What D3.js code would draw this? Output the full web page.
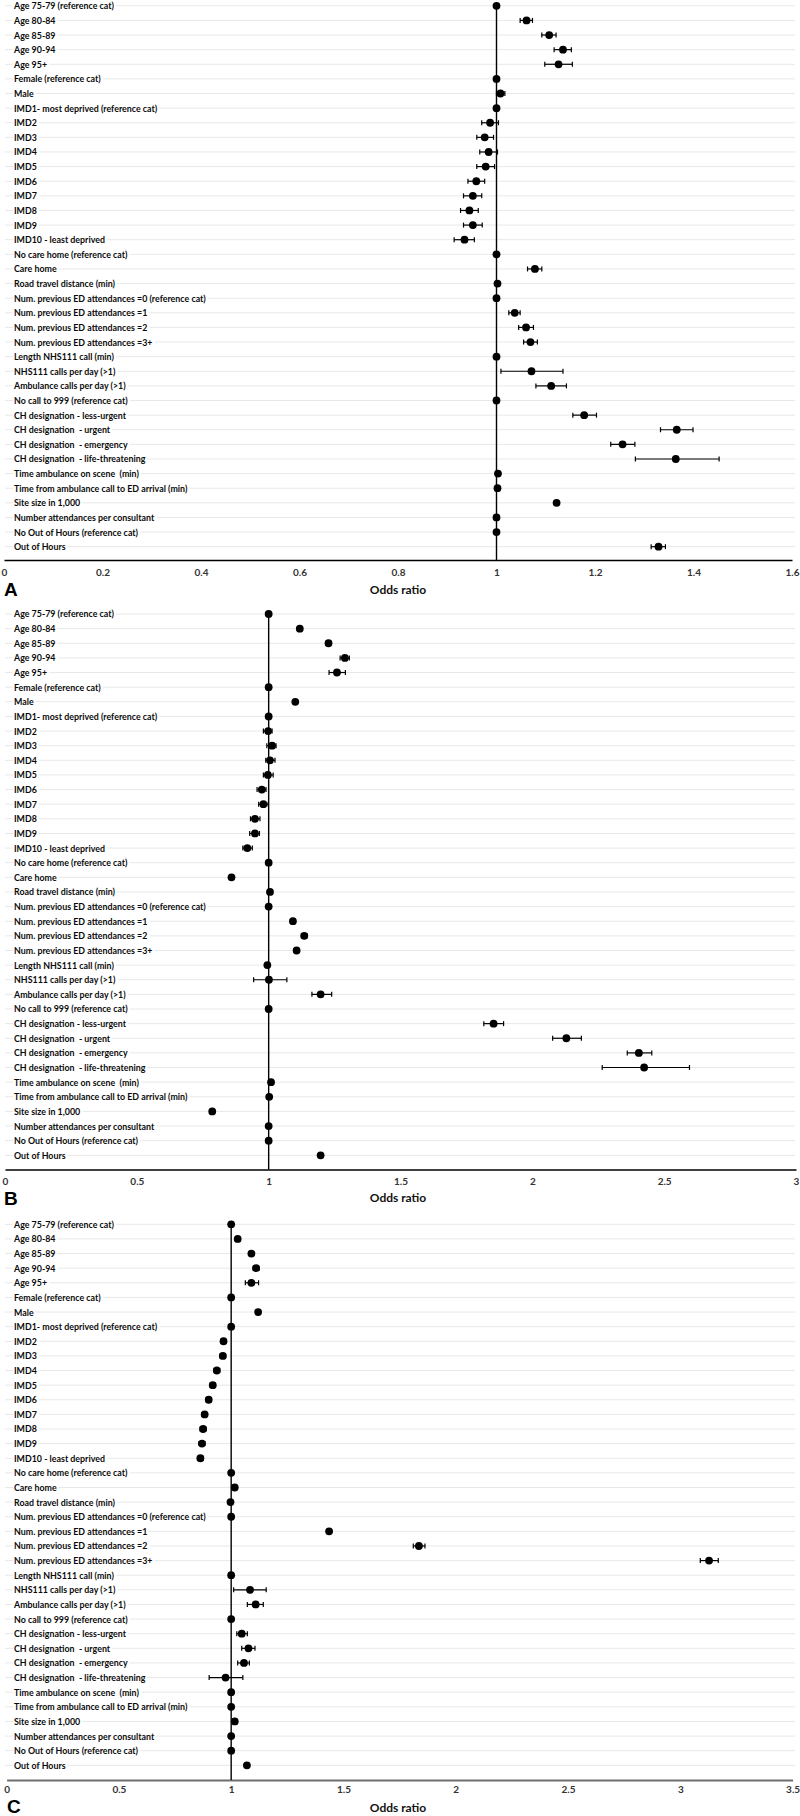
<!DOCTYPE html>
<html>
<head>
<meta charset="utf-8">
<script src="https://cdn.jsdelivr.net/npm/d3@7"></script>
<style>
  html, body { margin: 0; padding: 0; background: #fff; }
  svg { display: block; }
  text { white-space: pre; }
</style>
</head>
<body>
<svg id="chart" width="800" height="1816"></svg>
<script>
const categories = [
  "Age 75-79 (reference cat)", "Age 80-84", "Age 85-89", "Age 90-94", "Age 95+",
  "Female (reference cat)", "Male",
  "IMD1- most deprived (reference cat)", "IMD2", "IMD3", "IMD4", "IMD5", "IMD6", "IMD7", "IMD8", "IMD9",
  "IMD10 - least deprived",
  "No care home (reference cat)", "Care home",
  "Road travel distance (min)",
  "Num. previous ED attendances =0 (reference cat)", "Num. previous ED attendances =1",
  "Num. previous ED attendances =2", "Num. previous ED attendances =3+",
  "Length NHS111 call (min)", "NHS111 calls per day (>1)", "Ambulance calls per day (>1)",
  "No call to 999 (reference cat)",
  "CH designation - less-urgent", "CH designation  - urgent", "CH designation  - emergency",
  "CH designation  - life-threatening",
  "Time ambulance on scene  (min)", "Time from ambulance call to ED arrival (min)",
  "Site size in 1,000", "Number attendances per consultant",
  "No Out of Hours (reference cat)", "Out of Hours"
];

// Panel A: odds ratios and 95% CI
const orA = [1.000,1.061,1.107,1.135,1.126, 1.000,1.008, 1.000,0.987,0.976,0.984,0.978,0.959,0.952,0.945,0.952,0.935,
  1.000,1.078, 1.002, 1.000,1.037,1.060,1.069, 1.000,1.071,1.111, 1.000,1.178,1.366,1.256,1.364,
  1.003,1.002,1.122,1.000,1.000,1.329];
const loA = [1.000,1.048,1.092,1.117,1.098, 1.000,1.000, 1.000,0.970,0.960,0.966,0.960,0.942,0.933,0.927,0.933,0.914,
  1.000,1.063, 1.002, 1.000,1.025,1.045,1.055, 1.000,1.009,1.080, 1.000,1.155,1.333,1.232,1.282,
  1.003,1.002,1.118,1.000,1.000,1.314];
const hiA = [1.000,1.073,1.121,1.152,1.154, 1.000,1.017, 1.000,1.004,0.994,1.002,0.996,0.976,0.970,0.963,0.971,0.955,
  1.000,1.092, 1.002, 1.000,1.048,1.075,1.083, 1.000,1.135,1.142, 1.000,1.203,1.399,1.281,1.452,
  1.003,1.002,1.126,1.000,1.000,1.343];

// Panel B
const orB = [1.000,1.118,1.227,1.289,1.259, 1.000,1.101, 1.000,0.998,1.013,1.005,0.997,0.974,0.980,0.948,0.948,0.919,
  1.000,0.859, 1.005, 1.000,1.092,1.135,1.106, 0.995,1.001,1.197, 1.000,1.853,2.129,2.404,2.424,
  1.009,1.002,0.786,1.000,1.000,1.197];
const loB = [1.000,1.110,1.217,1.271,1.229, 1.000,1.097, 1.000,0.980,0.993,0.989,0.980,0.956,0.962,0.931,0.928,0.902,
  1.000,0.855, 1.005, 1.000,1.085,1.124,1.097, 0.995,0.943,1.164, 1.000,1.816,2.077,2.360,2.265,
  1.009,1.002,0.786,1.000,1.000,1.190];
const hiB = [1.000,1.126,1.237,1.306,1.291, 1.000,1.105, 1.000,1.013,1.028,1.024,1.017,0.990,0.998,0.967,0.965,0.938,
  1.000,0.863, 1.005, 1.000,1.099,1.146,1.115, 0.995,1.069,1.239, 1.000,1.891,2.186,2.453,2.596,
  1.009,1.002,0.786,1.000,1.000,1.204];

// Panel C
const orC = [1.000,1.029,1.090,1.111,1.090, 1.000,1.120, 1.000,0.966,0.963,0.936,0.918,0.900,0.882,0.875,0.870,0.863,
  1.000,1.016, 0.997, 1.000,1.436,1.836,3.128, 1.000,1.084,1.109, 1.000,1.047,1.077,1.057,0.975,
  1.000,1.000,1.016,1.000,1.000,1.070];
const loC = [1.000,1.020,1.080,1.098,1.063, 1.000,1.120, 1.000,0.955,0.950,0.924,0.906,0.888,0.870,0.862,0.857,0.850,
  1.000,1.016, 0.997, 1.000,1.425,1.811,3.089, 1.000,1.011,1.072, 1.000,1.025,1.047,1.029,0.902,
  1.000,1.000,1.016,1.000,1.000,1.070];
const hiC = [1.000,1.038,1.100,1.124,1.122, 1.000,1.120, 1.000,0.977,0.975,0.949,0.930,0.912,0.894,0.888,0.883,0.876,
  1.000,1.016, 0.997, 1.000,1.447,1.863,3.169, 1.000,1.156,1.143, 1.000,1.072,1.106,1.081,1.052,
  1.000,1.000,1.016,1.000,1.000,1.070];

const ticksA = [0, 0.2, 0.4, 0.6, 0.8, 1, 1.2, 1.4, 1.6];
const ticksB = [0, 0.5, 1, 1.5, 2, 2.5, 3];
const ticksC = [0, 0.5, 1, 1.5, 2, 2.5, 3, 3.5];
const panelLetters = ["A", "B", "C"];
const axisTitle = "Odds ratio";

const svg = d3.select("#chart");
const labelFont = "Lato, 'Open Sans', sans-serif";
const labelSize = 10;

// measure label condensing so that labels match the original narrow font
const probe = svg.append("text").attr("font-family", labelFont).attr("font-weight", 700)
  .attr("font-size", labelSize).text(categories[20]);
const probeW = probe.node().getComputedTextLength();
probe.remove();
const labelScale = 192 / probeW;

const panels = [
  { or: orA, lo: loA, hi: hiA, ticks: ticksA, letter: panelLetters[0],
    rowTop: 5.8, rowBottom: 546.7, axisY: 560, x0: 4, x1: 792, axisColor: "#000", pad: 8.5, letterY: 596, titleY: 594 },
  { or: orB, lo: loB, hi: hiB, ticks: ticksB, letter: panelLetters[1],
    rowTop: 614, rowBottom: 1155.3, axisY: 1169.5, x0: 5, x1: 796, axisColor: "#000", pad: 8.5, letterY: 1205, titleY: 1202 },
  { or: orC, lo: loC, hi: hiC, ticks: ticksC, letter: panelLetters[2],
    rowTop: 1224.3, rowBottom: 1765.3, axisY: 1780, x0: 6.6, x1: 792.6, axisColor: "#6e6e6e", pad: 6, letterY: 1813, titleY: 1812 }
];

panels.forEach(p => {
  const g = svg.append("g");
  const x = d3.scaleLinear()
    .domain([0, p.ticks[p.ticks.length - 1]])
    .range([p.x0, p.x1]);
  const y = d3.scalePoint().domain(categories).range([p.rowTop, p.rowBottom]);

  // gridlines
  g.append("g").selectAll("line").data(categories).join("line")
    .attr("x1", 5).attr("x2", 795)
    .attr("y1", d => y(d)).attr("y2", d => y(d))
    .attr("stroke", "#e8e8e8").attr("stroke-width", 1);

  // labels with white background
  const lg = g.append("g").attr("transform", `translate(14,0) scale(${labelScale},1)`);
  const items = lg.selectAll("g").data(categories).join("g");
  items.append("rect").attr("class", "bg");
  items.append("text")
    .attr("x", 0).attr("y", d => y(d)).attr("dy", "0.35em")
    .attr("font-family", labelFont).attr("font-weight", 700).attr("font-size", labelSize)
    .attr("fill", "#0a0a0a").text(d => d);
  items.each(function () {
    const t = d3.select(this).select("text").node();
    const bb = t.getBBox();
    d3.select(this).select("rect")
      .attr("x", bb.x - 1).attr("y", bb.y + 1).attr("width", bb.width + 3).attr("height", bb.height - 2)
      .attr("fill", "#fff");
  });

  // axis
  const axis = d3.axisBottom(x).tickValues(p.ticks).tickSize(0).tickPadding(p.pad)
    .tickFormat(d => String(d));
  const ag = g.append("g").attr("transform", `translate(0,${p.axisY})`).call(axis);
  ag.select(".domain").attr("stroke", p.axisColor).attr("stroke-width", p.axisColor === "#000" ? 1.6 : 2.2);
  ag.selectAll("text").attr("font-family", labelFont).attr("font-weight", 700)
    .attr("font-size", 10).attr("fill", "#333");

  // reference line at OR = 1
  g.append("line")
    .attr("x1", x(1)).attr("x2", x(1))
    .attr("y1", y(categories[0])).attr("y2", p.axisY)
    .attr("stroke", "#000").attr("stroke-width", 1.4);

  const data = categories.map((c, i) => ({ c, or: p.or[i], lo: p.lo[i], hi: p.hi[i] }));
  const withCI = data.filter(d => d.hi - d.lo > 0.0005);

  // error bars
  const eb = g.append("g").attr("stroke", "#000").attr("stroke-width", 1.2);
  eb.selectAll("line.bar").data(withCI).join("line").attr("class", "bar")
    .attr("x1", d => x(d.lo)).attr("x2", d => x(d.hi))
    .attr("y1", d => y(d.c)).attr("y2", d => y(d.c));
  eb.selectAll("line.capl").data(withCI).join("line").attr("class", "capl")
    .attr("x1", d => x(d.lo)).attr("x2", d => x(d.lo))
    .attr("y1", d => y(d.c) - 2.5).attr("y2", d => y(d.c) + 2.5);
  eb.selectAll("line.caph").data(withCI).join("line").attr("class", "caph")
    .attr("x1", d => x(d.hi)).attr("x2", d => x(d.hi))
    .attr("y1", d => y(d.c) - 2.5).attr("y2", d => y(d.c) + 2.5);

  // points
  g.append("g").selectAll("circle").data(data).join("circle")
    .attr("cx", d => x(d.or)).attr("cy", d => y(d.c)).attr("r", 3.9)
    .attr("fill", "#000");

  // panel letter
  g.append("text").attr("x", p.letter === "C" ? 7 : 4).attr("y", p.letterY)
    .attr("font-family", "'Liberation Sans', Arial, sans-serif").attr("font-weight", 700)
    .attr("font-size", 19).attr("fill", "#000").text(p.letter);

  // axis title
  g.append("text").attr("x", 398).attr("y", p.titleY).attr("text-anchor", "middle")
    .attr("font-family", labelFont).attr("font-weight", 700).attr("font-size", 12)
    .attr("fill", "#111").text(axisTitle);
});
</script>
</body>
</html>
